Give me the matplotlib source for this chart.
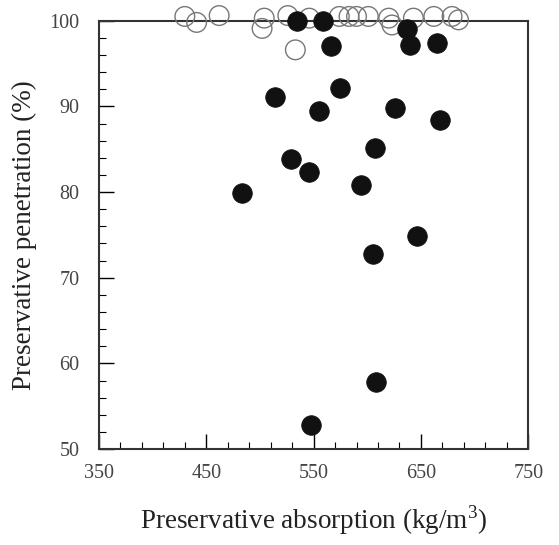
import matplotlib
matplotlib.use("Agg")
import matplotlib.pyplot as plt
from matplotlib.ticker import MultipleLocator

# treated samples (filled circles)
filled_x = [535, 559, 566, 637, 640, 665, 514, 575, 555, 626, 668, 607, 529, 546, 594, 483, 646, 605, 608, 548]
filled_y = [100, 100, 97.1, 99.0, 97.2, 97.4, 91.1, 92.2, 89.5, 89.8, 88.4, 85.1, 83.9, 82.3, 80.8, 79.9, 74.9, 72.8, 57.8, 52.8]

# other samples (open circles)
open_x = [430, 441, 462, 504, 502, 526, 546, 574, 583, 590, 601, 620, 623, 643, 662, 679, 685, 533]
open_y = [100.5, 99.8, 100.6, 100.3, 99.1, 100.6, 100.3, 100.5, 100.5, 100.5, 100.5, 100.3, 99.5, 100.3, 100.5, 100.5, 100.1, 96.6]

x_ticks = [350, 450, 550, 650, 750]
y_ticks = [50, 60, 70, 80, 90, 100]

plt.rcParams['font.family'] = ['Liberation Serif', 'DejaVu Serif']
plt.rcParams['mathtext.fontset'] = 'custom'
plt.rcParams['mathtext.rm'] = 'Liberation Serif'

fig = plt.figure(figsize=(5.59, 5.45), dpi=100)
ax = fig.add_axes([0.177, 0.176, 0.768, 0.786])

ax.scatter(open_x, open_y, s=200, facecolors='none', edgecolors='#777777',
           linewidths=1.0, clip_on=False, zorder=3)
ax.scatter(filled_x, filled_y, s=200, color='#111111', edgecolors='#111111',
           linewidths=0.5, clip_on=False, zorder=4)

ax.set_xlim(350, 750)
ax.set_ylim(50, 100)
ax.set_xticks(x_ticks)
ax.set_yticks(y_ticks)
ax.xaxis.set_minor_locator(MultipleLocator(20, offset=10))
ax.yaxis.set_minor_locator(MultipleLocator(2))
ax.tick_params(which='major', direction='in', length=11, width=1, labelsize=14.5,
               labelcolor='#444444', pad=14)
ax.tick_params(which='minor', direction='in', length=5, width=0.8)
ax.tick_params(axis='x', pad=11)

for s in ax.spines.values():
    s.set_linewidth(1.5)
    s.set_color('#333333')

ax.set_xlabel(r'Preservative absorption (kg/m$^\mathrm{3}$)', fontsize=19.5, color='#222222', labelpad=14)
ax.set_ylabel('Preservative penetration (%)', fontsize=19.5, color='#222222', labelpad=9)

fig.savefig('out.png', dpi=100)
